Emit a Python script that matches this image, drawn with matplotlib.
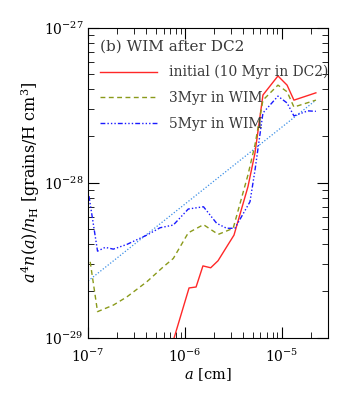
import matplotlib
matplotlib.use("Agg")
import matplotlib.pyplot as plt
from matplotlib.ticker import NullFormatter

plt.rcParams["font.family"] = "DejaVu Serif"
plt.rcParams["mathtext.fontset"] = "dejavuserif"

# --- data ---
a_init = [6.69e-7, 1.10e-6, 1.30e-6, 1.53e-6, 1.84e-6, 2.19e-6, 2.69e-6, 3.20e-6,
          4.46e-6, 5.27e-6, 6.37e-6, 9.1e-6, 1.13e-5, 1.33e-5, 2.24e-5]
y_init = [7.4e-30, 2.09e-29, 2.12e-29, 2.90e-29, 2.82e-29, 3.13e-29, 3.85e-29, 4.58e-29,
          9.4e-29, 1.55e-28, 3.67e-28, 4.87e-28, 4.25e-28, 3.40e-28, 3.79e-28]

a_3myr = [1.05e-7, 1.25e-7, 1.82e-7, 2.51e-7, 4.03e-7, 5.97e-7, 7.57e-7, 1.08e-6,
          1.55e-6, 2.20e-6, 3.14e-6, 4.46e-6, 5.27e-6, 6.37e-6, 9.1e-6, 1.13e-5,
          1.33e-5, 2.24e-5]
y_3myr = [3.08e-29, 1.47e-29, 1.62e-29, 1.83e-29, 2.29e-29, 2.86e-29, 3.24e-29, 4.74e-29,
          5.35e-29, 4.63e-29, 5.07e-29, 1.12e-28, 1.75e-28, 3.40e-28, 4.25e-28, 3.85e-28,
          3.07e-28, 3.40e-28]

a_5myr = [1.02e-7, 1.25e-7, 1.50e-7, 1.82e-7, 2.51e-7, 4.03e-7, 5.52e-7, 7.57e-7,
          1.08e-6, 1.55e-6, 2.12e-6, 2.69e-6, 3.27e-6, 4.68e-6, 5.27e-6, 6.37e-6,
          9.1e-6, 1.13e-5, 1.33e-5, 1.85e-5, 2.24e-5]
y_5myr = [8.18e-29, 3.61e-29, 3.82e-29, 3.72e-29, 3.99e-29, 4.58e-29, 5.11e-29, 5.32e-29,
          6.75e-29, 6.98e-29, 5.46e-29, 5.07e-29, 5.07e-29, 7.52e-29, 1.2e-28, 2.81e-28,
          3.61e-28, 3.26e-28, 2.69e-28, 2.90e-28, 2.88e-28]

a_ref = [1.0e-7, 2.24e-5]
y_ref = [2.32e-29, 3.40e-28]

labels = ["initial (10 Myr in DC2)", "3Myr in WIM", "5Myr in WIM"]
title = "(b) WIM after DC2"
x_major = [1e-7, 1e-6, 1e-5]
y_major = [1e-29, 1e-28, 1e-27]

fig = plt.figure(figsize=(3.54, 3.93), dpi=100)
ax = fig.add_axes([0.249, 0.141, 0.678, 0.789])

ax.plot(a_ref, y_ref, color="#3a8ee6", lw=0.9, ls=(0, (1, 1.5)))
ax.plot(a_init, y_init, color="#ff2828", lw=1.0, label=labels[0])
ax.plot(a_3myr, y_3myr, color="#8a9a1a", lw=1.0, ls=(0, (3.5, 2.5)), label=labels[1])
ax.plot(a_5myr, y_5myr, color="#1a1aff", lw=1.0, ls=(0, (3.5, 1.5, 1, 1.5, 1, 1.5, 1, 1.5)),
        label=labels[2])

ax.set_xscale("log")
ax.set_yscale("log")
ax.set_xlim(1e-7, 3e-5)
ax.set_ylim(1e-29, 1e-27)

# explicit ticks so nothing lives outside the axes range
ax.set_xticks(x_major)
ax.set_yticks(y_major)
ax.set_xticks([m * d for d in [1e-7, 1e-6, 1e-5] for m in range(2, 10) if m * d <= 3e-5],
              minor=True)
ax.set_yticks([m * d for d in [1e-29, 1e-28] for m in range(2, 10)], minor=True)
ax.xaxis.set_minor_formatter(NullFormatter())
ax.yaxis.set_minor_formatter(NullFormatter())

ax.tick_params(which="both", direction="in", top=True, right=True, labelsize=10)
ax.tick_params(which="major", length=8, width=0.8)
ax.tick_params(which="minor", length=4, width=0.6)
ax.tick_params(axis="x", pad=7)

ax.set_xlabel(r"$a$ [cm]", fontsize=10.5, labelpad=1)
ax.set_ylabel(r"$a^4 n(a)/n_{\rm H}$ [grains/H cm$^3$]", fontsize=11.5, labelpad=1)

leg = ax.legend(loc="upper left", title=title, frameon=False, fontsize=10,
                title_fontsize=11, handlelength=4.1, handletextpad=0.85,
                labelspacing=0.84, alignment="left", borderaxespad=0.45,
                borderpad=0.4)
for t in leg.get_texts():
    t.set_color("#3a3a3a")
leg.get_title().set_color("#3a3a3a")

fig.savefig("out.png", dpi=100)
